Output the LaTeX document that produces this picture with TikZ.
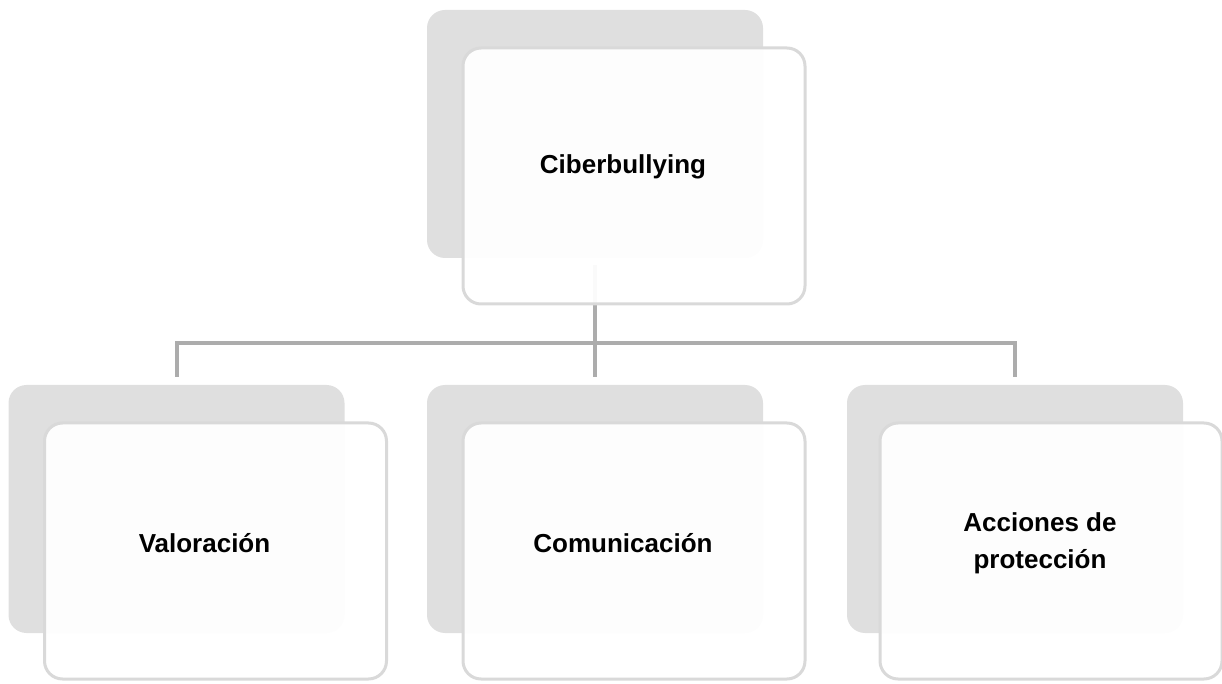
\documentclass[tikz,border=0pt]{standalone}
\usepackage{fontspec}
\setmainfont{Liberation Sans}
\usepackage{tikz}
\usetikzlibrary{positioning, calc}

\begin{document}
\begin{tikzpicture}[
        x=0.5pt, y=-0.5pt,
        back/.style={rectangle, rounded corners=9pt, fill=gray!25, draw=none, minimum width=168pt, minimum height=124pt},
        card/.style={rectangle, rounded corners=9pt, fill=white, fill opacity=0.95, draw=gray!30, line width=1.5pt, minimum width=171pt, minimum height=128pt},
        label/.style={font=\bfseries\fontsize{13}{18.5}\selectfont, align=center},
        conn/.style={draw=gray!65, line width=2pt}
    ]
        \useasboundingbox (0,0) rectangle (1222,684);

        % Shadow boxes
        \node[back] (cyberS) at (595,134) {};
        \node[back] (valorS) at (176.5,509) {};
        \node[back] (comunS) at (595,509) {};
        \node[back] (accionS) at (1015,509) {};

        % Connectors
        \draw[conn] ($(cyberS.south)+(0,7)$) -- ($(comunS.north)+(0,-8)$);
        \draw[conn] ($(valorS.north)+(0,-8)$) |- ($(accionS.north)+(0,-42)$) -- ($(accionS.north)+(0,-8)$);

        % Front boxes
        \node[card] (cyber) at ($(cyberS)+(39,42)$) {};
        \node[card] (valor) at ($(valorS)+(39,42)$) {};
        \node[card] (comun) at ($(comunS)+(39,42)$) {};
        \node[card] (accion) at ($(accionS)+(36,42)$) {};

        % Texts
        \node[label] (cyberT) at ($(cyber)+(-11,-9)$) {Ciberbullying};
        \node[label] (valorT) at ($(valor)+(-11,-8)$) {Valoración};
        \node[label] (comunT) at ($(comun)+(-11,-8)$) {Comunicación};
        \node[label] (accionT) at ($(accion)+(-11,-8)$) {Acciones de\\protección};

    \end{tikzpicture}
\end{document}
